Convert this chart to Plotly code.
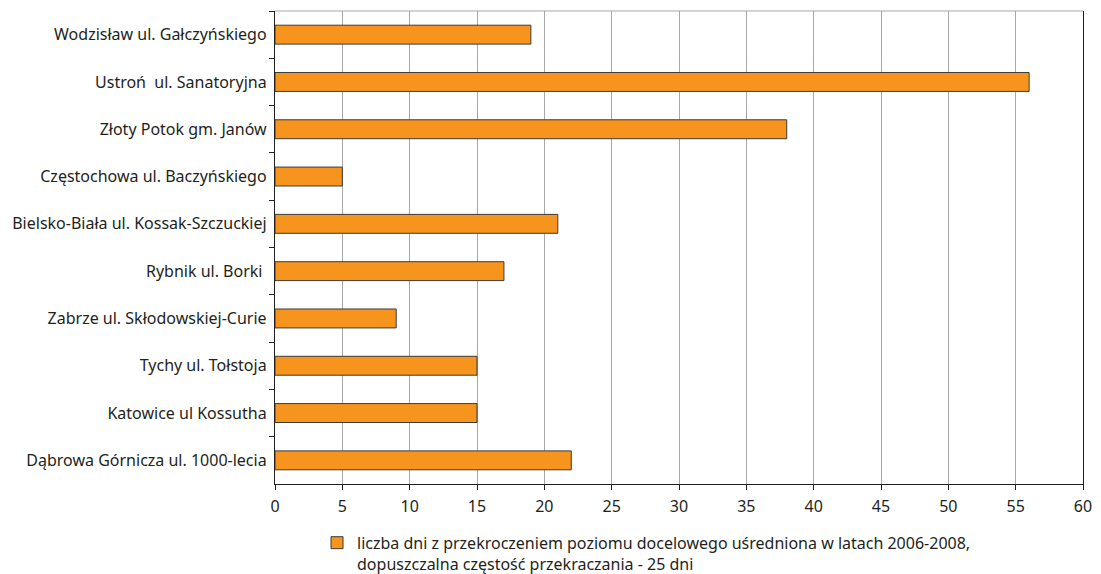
import plotly.graph_objects as go

categories = [
    "Wodzisław ul. Gałczyńskiego",
    "Ustroń  ul. Sanatoryjna",
    "Złoty Potok gm. Janów",
    "Częstochowa ul. Baczyńskiego",
    "Bielsko-Biała ul. Kossak-Szczuckiej",
    "Rybnik ul. Borki ",
    "Zabrze ul. Skłodowskiej-Curie",
    "Tychy ul. Tołstoja",
    "Katowice ul Kossutha",
    "Dąbrowa Górnicza ul. 1000-lecia",
]
values = [19, 56, 38, 5, 21, 17, 9, 15, 15, 22]
series_name = ("liczba dni z przekroczeniem poziomu docelowego uśredniona w latach 2006-2008,<br>"
               "dopuszczalna częstość przekraczania - 25 dni")
x_ticks = list(range(0, 61, 5))

FONT = "Noto Sans"

fig = go.Figure()
fig.add_trace(go.Bar(
    y=categories, x=values, orientation="h", name=series_name,
    marker=dict(color="#F7941D", line=dict(color="#3a3a3a", width=1)),
    width=0.4, showlegend=True,
))

fig.update_layout(
    width=1101, height=574,
    margin=dict(l=275, r=18, t=11, b=90),
    plot_bgcolor="white", paper_bgcolor="white",
    font=dict(family=FONT, size=16, color="#231f20"),
    showlegend=True,
    legend=dict(x=0.052, yref="container", y=0.084,
                xanchor="left", yanchor="top", valign="top",
                font=dict(family=FONT, size=16, color="#231f20"),
                bgcolor="rgba(0,0,0,0)", itemwidth=30, tracegroupgap=0),
    xaxis=dict(range=[0, 60], tickvals=x_ticks, showgrid=True, gridcolor="#a8a8a8",
               gridwidth=1.3, showline=True, linecolor="#231f20", linewidth=1,
               ticks="outside", ticklen=5, tickcolor="#231f20", zeroline=False,
               tickfont=dict(size=16), ticklabelstandoff=3, automargin=False,
               fixedrange=True),
    yaxis=dict(categoryorder="array", categoryarray=categories, autorange="reversed",
               showline=True, linecolor="#231f20", linewidth=1, mirror=True,
               ticks="outside", tickson="boundaries", ticklen=5, tickcolor="#231f20",
               showgrid=False, tickfont=dict(size=16), ticksuffix=" ", automargin=False,
               fixedrange=True),
)
fig.add_shape(type="line", xref="paper", yref="paper", x0=0, x1=1, y0=1, y1=1,
              line=dict(color="#a8a8a8", width=1))

fig.write_html("out.html", config={"displayModeBar": False},
               post_script="document.body.style.margin='0';")
